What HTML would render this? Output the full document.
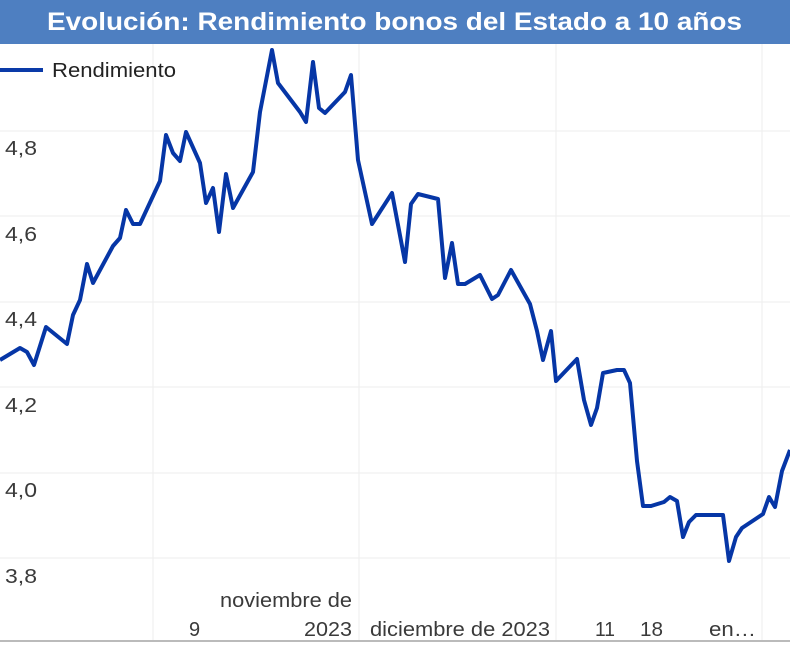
<!DOCTYPE html>
<html><head><meta charset="utf-8"><style>
body{margin:0;width:790px;height:645px;overflow:hidden;background:#fff;font-family:"Liberation Sans",Arial,sans-serif}
</style></head><body>
<svg width="790" height="645" viewBox="0 0 790 645" xmlns="http://www.w3.org/2000/svg" font-family="Liberation Sans, Arial, sans-serif">
<rect x="0" y="0" width="790" height="44" fill="#4e7fc1"/>
<text x="47" y="30" font-size="25" font-weight="bold" fill="#fff" textLength="695" lengthAdjust="spacingAndGlyphs">Evolución: Rendimiento bonos del Estado a 10 años</text>
<g stroke="#eeeeee" stroke-width="1">
<line x1="0" y1="131" x2="790" y2="131"/><line x1="0" y1="216" x2="790" y2="216"/>
<line x1="0" y1="302" x2="790" y2="302"/><line x1="0" y1="387" x2="790" y2="387"/>
<line x1="0" y1="473" x2="790" y2="473"/><line x1="0" y1="558" x2="790" y2="558"/>
<line x1="153" y1="44" x2="153" y2="640"/><line x1="359" y1="44" x2="359" y2="640"/>
<line x1="556" y1="44" x2="556" y2="640"/><line x1="762" y1="44" x2="762" y2="640"/>
</g>
<line x1="0" y1="641" x2="790" y2="641" stroke="#bbb" stroke-width="2"/>
<g font-size="20" fill="#3a3a3a">
<text x="5" y="155" textLength="32" lengthAdjust="spacingAndGlyphs">4,8</text>
<text x="5" y="241" textLength="32" lengthAdjust="spacingAndGlyphs">4,6</text>
<text x="5" y="326" textLength="32" lengthAdjust="spacingAndGlyphs">4,4</text>
<text x="5" y="412" textLength="32" lengthAdjust="spacingAndGlyphs">4,2</text>
<text x="5" y="497" textLength="32" lengthAdjust="spacingAndGlyphs">4,0</text>
<text x="5" y="583" textLength="32" lengthAdjust="spacingAndGlyphs">3,8</text>
<text x="189" y="636">9</text>
<text x="220" y="607" textLength="132" lengthAdjust="spacingAndGlyphs">noviembre de</text>
<text x="304" y="636" textLength="48" lengthAdjust="spacingAndGlyphs">2023</text>
<text x="370" y="636" textLength="180" lengthAdjust="spacingAndGlyphs">diciembre de 2023</text>
<text x="595" y="636" textLength="20" lengthAdjust="spacingAndGlyphs">11</text>
<text x="640" y="636" textLength="23" lengthAdjust="spacingAndGlyphs">18</text>
<text x="709" y="636" textLength="47" lengthAdjust="spacingAndGlyphs">en…</text>
</g>
<line x1="0" y1="70" x2="43" y2="70" stroke="#0a3aa8" stroke-width="4"/>
<text x="52" y="77" font-size="20" fill="#222" textLength="124" lengthAdjust="spacingAndGlyphs">Rendimiento</text>
<polyline fill="none" stroke="#0636a6" stroke-width="4" stroke-linejoin="round" points="0,360 20,348 27,352 34,365 46,327 67,344 73,315 80,300 87,264 93,283 113,246 120,238 126,210 133,224 140,224 160,181 166,135 173,153 180,161 186,132 200,163 206,203 213,188 219,232 226,174 233,208 253,172 260,112 272,50 278,83 300,112 306,122 313,62 319,108 325,113 345,92 351,75 358,160 372,224 392,193 405,262 411,204 418,194 438,199 445,278 452,243 458,284 465,284 480,275 492,299 498,295 511,270 530,304 537,331 543,360 551,331 556,381 577,359 584,400 591,425 597,408 603,373 617,370 624,370 630,383 637,461 643,506 651,506 664,502 670,497 677,501 683,537 689,522 696,515 723,515 729,561 736,537 742,528 763,514 769,497 775,507 782,471 790,450"/>
</svg>
</body></html>
